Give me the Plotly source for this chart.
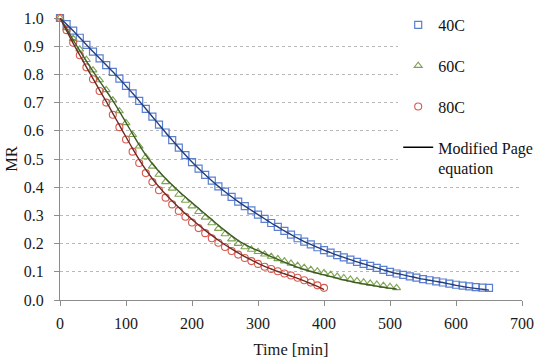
import plotly.graph_objects as go

# ---- data ----
t40 = [0, 10, 20, 30, 40, 50, 60, 70, 80, 90, 100, 110, 120, 130, 140, 150, 160, 170, 180, 190,
       200, 210, 220, 230, 240, 250, 260, 270, 280, 290, 300, 310, 320, 330, 340, 350, 360, 370,
       380, 390, 400, 410, 420, 430, 440, 450, 460, 470, 480, 490, 500, 510, 520, 530, 540, 550,
       560, 570, 580, 590, 600, 610, 620, 630, 640, 650]
mr40 = [1.000, 0.978, 0.955, 0.930, 0.905, 0.881, 0.857, 0.833, 0.809, 0.785, 0.759, 0.733, 0.706,
        0.678, 0.650, 0.622, 0.594, 0.567, 0.540, 0.514, 0.489, 0.466, 0.444, 0.423, 0.403, 0.384,
        0.366, 0.349, 0.333, 0.318, 0.303, 0.288, 0.273, 0.259, 0.245, 0.232, 0.219, 0.207, 0.197,
        0.187, 0.177, 0.168, 0.159, 0.151, 0.143, 0.135, 0.128, 0.121, 0.114, 0.107, 0.100, 0.094,
        0.089, 0.084, 0.079, 0.074, 0.070, 0.066, 0.062, 0.058, 0.054, 0.051, 0.048, 0.046, 0.044,
        0.043]
fit40 = [1.000, 0.978, 0.955, 0.930, 0.905, 0.881, 0.857, 0.833, 0.809, 0.785, 0.759, 0.733, 0.706,
         0.678, 0.650, 0.622, 0.594, 0.567, 0.540, 0.514, 0.489, 0.466, 0.444, 0.423, 0.403, 0.384,
         0.366, 0.349, 0.333, 0.318, 0.303, 0.288, 0.273, 0.259, 0.245, 0.232, 0.219, 0.207, 0.197,
         0.187, 0.177, 0.168, 0.159, 0.151, 0.143, 0.135, 0.128, 0.121, 0.114, 0.107, 0.100, 0.094,
         0.089, 0.084, 0.079, 0.074, 0.070, 0.066, 0.062, 0.057, 0.052, 0.048, 0.044, 0.041, 0.038,
         0.035]

t60 = [0, 10, 20, 30, 40, 50, 60, 70, 80, 90, 100, 110, 120, 130, 140, 150, 160, 170, 180, 190,
       200, 210, 220, 230, 240, 250, 260, 270, 280, 290, 300, 310, 320, 330, 340, 350, 360, 370,
       380, 390, 400, 410, 420, 430, 440, 450, 460, 470, 480, 490, 500, 510]
mr60 = [1.000, 0.965, 0.927, 0.889, 0.852, 0.815, 0.780, 0.745, 0.709, 0.670, 0.628, 0.586, 0.545,
        0.507, 0.474, 0.445, 0.419, 0.396, 0.374, 0.353, 0.333, 0.313, 0.293, 0.273, 0.253, 0.234,
        0.216, 0.200, 0.188, 0.179, 0.171, 0.162, 0.154, 0.146, 0.138, 0.130, 0.122, 0.115, 0.108,
        0.102, 0.096, 0.090, 0.084, 0.078, 0.073, 0.068, 0.063, 0.059, 0.055, 0.051, 0.047, 0.043]
fit60 = [1.000, 0.962, 0.922, 0.884, 0.847, 0.811, 0.776, 0.742, 0.707, 0.669, 0.629, 0.589, 0.550,
         0.514, 0.483, 0.456, 0.431, 0.408, 0.386, 0.365, 0.345, 0.325, 0.305, 0.285, 0.265, 0.246,
         0.228, 0.211, 0.197, 0.185, 0.175, 0.164, 0.154, 0.144, 0.134, 0.125, 0.116, 0.108, 0.101,
         0.095, 0.089, 0.083, 0.077, 0.071, 0.066, 0.061, 0.057, 0.053, 0.049, 0.045, 0.042, 0.039]

t80 = [0, 10, 20, 30, 40, 50, 60, 70, 80, 90, 100, 110, 120, 130, 140, 150, 160, 170, 180, 190,
       200, 210, 220, 230, 240, 250, 260, 270, 280, 290, 300, 310, 320, 330, 340, 350, 360, 370,
       380, 390, 400]
mr80 = [1.000, 0.957, 0.912, 0.868, 0.825, 0.783, 0.741, 0.700, 0.657, 0.613, 0.569, 0.526, 0.486,
        0.450, 0.418, 0.389, 0.363, 0.339, 0.316, 0.295, 0.275, 0.255, 0.237, 0.219, 0.203, 0.188,
        0.174, 0.161, 0.149, 0.138, 0.128, 0.118, 0.110, 0.102, 0.094, 0.087, 0.079, 0.070, 0.062,
        0.052, 0.043]
fit80 = [1.000, 0.955, 0.910, 0.868, 0.826, 0.785, 0.744, 0.704, 0.662, 0.620, 0.578, 0.537, 0.498,
         0.462, 0.430, 0.401, 0.375, 0.351, 0.328, 0.306, 0.286, 0.266, 0.247, 0.229, 0.212, 0.196,
         0.181, 0.167, 0.154, 0.142, 0.130, 0.119, 0.110, 0.101, 0.093, 0.085, 0.077, 0.068, 0.058,
         0.048, 0.037]

x_ticks = [0, 100, 200, 300, 400, 500, 600, 700]
y_ticks = [0.0, 0.1, 0.2, 0.3, 0.4, 0.5, 0.6, 0.7, 0.8, 0.9, 1.0]

FONT = "Liberation Serif"

fig = go.Figure()

fig.add_trace(go.Scatter(x=t40, y=mr40, mode="markers", name="40C", legendgroup="a",
                         marker=dict(symbol="square-open", size=7, color="#5a7fd0", line=dict(width=1.2))))
fig.add_trace(go.Scatter(x=t60, y=mr60, mode="markers", name="60C", legendgroup="b",
                         marker=dict(symbol="triangle-up-open", size=7, color="#7fa352", line=dict(width=1.1))))
fig.add_trace(go.Scatter(x=t80, y=mr80, mode="markers", name="80C", legendgroup="c",
                         marker=dict(symbol="circle-open", size=7, color="#d65a50", line=dict(width=1.1))))

fig.add_trace(go.Scatter(x=t40, y=fit40, mode="lines", showlegend=False,
                         line=dict(color="#233d7d", width=1.4, shape="spline", smoothing=0.8)))
fig.add_trace(go.Scatter(x=t60, y=fit60, mode="lines", showlegend=False,
                         line=dict(color="#3e5b25", width=1.4, shape="spline", smoothing=0.8)))
fig.add_trace(go.Scatter(x=t80, y=fit80, mode="lines", showlegend=False,
                         line=dict(color="#6e2b22", width=1.4, shape="spline", smoothing=0.8)))

fig.add_trace(go.Scatter(x=[None], y=[None], mode="lines", name="Modified Page<br>equation",
                         legendgroup="d", line=dict(color="#000000", width=1.3)))

fig.update_layout(
    width=550, height=362,
    margin=dict(l=60, r=28, t=18, b=62, autoexpand=False),
    paper_bgcolor="white", plot_bgcolor="white",
    font=dict(family=FONT, size=16, color="#1a1a1a"),
    showlegend=True,
    legend=dict(xref="container", yref="container", x=0.724, y=0.978,
                xanchor="left", yanchor="top", bgcolor="white",
                font=dict(family=FONT, size=16, color="#111111"),
                tracegroupgap=17, valign="top", itemwidth=30),
    xaxis=dict(range=[0, 700], tickvals=x_ticks, ticktext=[str(v) for v in x_ticks],
               showgrid=False, zeroline=False, showline=True, linecolor="#8c8c8c", linewidth=1,
               ticks="outside", ticklen=5, tickcolor="#8c8c8c", automargin=False,
               ticklabelstandoff=4,
               title=dict(text="Time [min]", font=dict(family=FONT, size=16.5), standoff=12)),
    yaxis=dict(range=[0, 1.0], tickvals=y_ticks, ticktext=["%.1f" % v for v in y_ticks],
               showgrid=True, gridcolor="#b8b8b8", griddash="dot", gridwidth=1,
               zeroline=False, showline=True, linecolor="#8c8c8c", linewidth=1,
               ticks="outside", ticklen=5, tickcolor="#8c8c8c", automargin=False,
               ticklabelstandoff=7,
               title=dict(text="MR", font=dict(family=FONT, size=16.5), standoff=2)),
)
for tr in fig.data:
    tr.cliponaxis = False

fig.write_html("out.html", config={"displayModeBar": False},
               post_script="document.body.style.margin='0px';")
